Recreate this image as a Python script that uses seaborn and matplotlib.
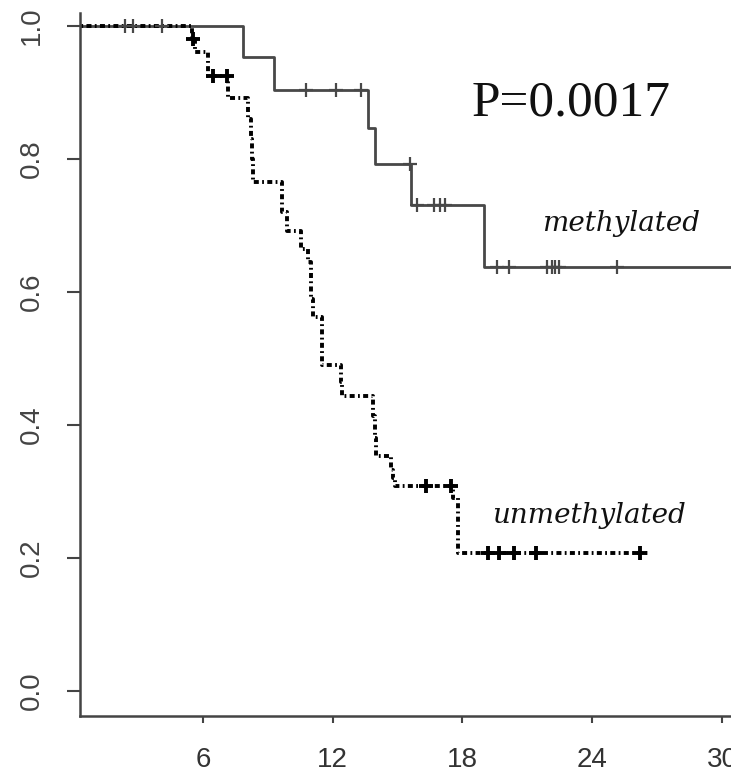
import numpy as np
import pandas as pd
import matplotlib
matplotlib.use("Agg")
import matplotlib.pyplot as plt
import seaborn as sns

# Kaplan-Meier estimates: event times (months) and survival after each event
meth_times = [0.0, 7.85, 9.3, 13.65, 13.95, 15.62, 19.0, 30.6]
meth_surv = [1.0, 0.953, 0.903, 0.846, 0.792, 0.731, 0.637, 0.637]
meth_censored = [2.4, 2.77, 4.1, 10.78, 12.17, 13.29, 15.58, 15.9, 16.7, 16.94,
                 17.17, 19.6, 20.17, 21.93, 22.13, 22.3, 22.47, 25.16]

unmeth_times = [0.0, 5.5, 5.65, 6.25, 7.17, 8.1, 8.2, 8.27, 8.33, 9.64, 9.9,
                10.55, 10.85, 11.0, 11.08, 11.48, 12.4, 12.45, 13.87, 13.95,
                14.0, 14.7, 14.8, 14.87, 17.55, 17.8, 26.6]
unmeth_surv = [1.0, 0.981, 0.961, 0.925, 0.891, 0.86, 0.83, 0.80, 0.766, 0.72,
               0.692, 0.665, 0.645, 0.589, 0.563, 0.49, 0.465, 0.443, 0.413,
               0.38, 0.353, 0.333, 0.32, 0.309, 0.29, 0.207, 0.207]
unmeth_censored = [5.55, 6.45, 7.1, 16.3, 17.45, 19.17, 19.7, 20.4, 21.4, 26.2]

y_ticks = [0.0, 0.2, 0.4, 0.6, 0.8, 1.0]
y_tick_labels = ["0.0", "0.2", "0.4", "0.6", "0.8", "1.0"]
x_ticks = [6, 12, 18, 24, 30]
x_tick_labels = ["6", "12", "18", "24", "30"]
p_text = "P=0.0017"
group_labels = ["methylated", "unmethylated"]


def step_value(times, surv, t):
    idx = np.searchsorted(times, t, side="right") - 1
    return np.asarray(surv)[idx]


sns.set_style("white")
plt.rcParams["lines.scale_dashes"] = False
plt.rcParams["font.family"] = ["Liberation Sans Narrow", "Liberation Sans", "DejaVu Sans"]

fig = plt.figure(figsize=(7.31, 7.73), dpi=100)
ax = fig.add_axes([80 / 731, 57 / 773, 651 / 731, 703 / 773])

curve_m = pd.DataFrame({"t": meth_times, "s": meth_surv})
curve_u = pd.DataFrame({"t": unmeth_times, "s": unmeth_surv})
cens_m = pd.DataFrame({"t": meth_censored,
                       "s": step_value(meth_times, meth_surv, meth_censored)})
cens_u = pd.DataFrame({"t": unmeth_censored,
                       "s": step_value(unmeth_times, unmeth_surv, unmeth_censored)})

sns.lineplot(data=curve_m, x="t", y="s", ax=ax, estimator=None,
             drawstyle="steps-post", color="#484848", linewidth=2.0)
sns.lineplot(data=curve_u, x="t", y="s", ax=ax, estimator=None,
             drawstyle="steps-post", color="black", linewidth=2.8,
             linestyle=(0, (3.6, 2.4, 1.3, 2.4)))
sns.scatterplot(data=cens_m, x="t", y="s", ax=ax, marker="+", s=100,
                color="#484848", linewidth=1.6, zorder=3)
sns.scatterplot(data=cens_u, x="t", y="s", ax=ax, marker="+", s=110,
                color="black", linewidth=2.8, zorder=3)

ax.set_xlim(0.31, 30.42)
ax.set_ylim(-0.0376, 1.0195)
ax.set_xticks(x_ticks)
ax.set_xticklabels(x_tick_labels)
ax.set_yticks(y_ticks)
ax.set_yticklabels(y_tick_labels, rotation=90, va="center")
ax.set_xlabel("")
ax.set_ylabel("")

for side in ["top", "right"]:
    ax.spines[side].set_visible(False)
for side in ["left", "bottom"]:
    ax.spines[side].set_color("#444444")
    ax.spines[side].set_linewidth(1.8)

ax.tick_params(axis="y", length=9.5, width=1.5, color="#444444", pad=15.5,
               labelsize=20, labelcolor="#444444", left=True)
ax.tick_params(axis="x", length=5, width=1.5, color="#444444", pad=17,
               labelsize=20, labelcolor="#333333", bottom=True)

ax.text(18.44, 0.866, p_text, family=["Liberation Serif", "DejaVu Serif"],
        fontsize=37, color="#111111", ha="left", va="baseline")
ax.text(21.66, 0.691, group_labels[0], family=["DejaVu Serif"], style="italic",
        fontsize=20, color="#111111", ha="left", va="baseline")
ax.text(19.35, 0.252, group_labels[1], family=["DejaVu Serif"], style="italic",
        fontsize=20, color="#111111", ha="left", va="baseline")

fig.savefig("out.png", dpi=100)
